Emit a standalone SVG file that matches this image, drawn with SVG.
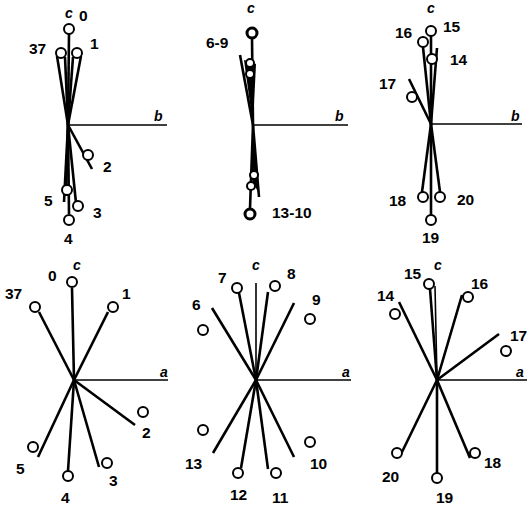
<svg xmlns="http://www.w3.org/2000/svg" width="528" height="507" viewBox="0 0 528 507">
<style>
.ax{stroke:#000;stroke-width:1.6;fill:none}
.sp{stroke:#000;stroke-width:2.6;fill:none;stroke-linecap:butt}
.spb{stroke:#000;stroke-width:4;fill:none}
.wd{fill:#000;stroke:none}
.c{fill:#fff;stroke:#000;stroke-width:2}
.cb{fill:#fff;stroke:#000;stroke-width:3}
text{font-family:"Liberation Sans",Arial,sans-serif;font-weight:bold;font-size:15.5px;fill:#000}
.ai{font-style:italic;font-size:14px}
</style>
<rect width="528" height="507" fill="#fff"/>
<g id="connectors">
<!-- panel 1 -->
<line class="ax" x1="68" y1="125" x2="167" y2="125"/>
<line class="sp" x1="69" y1="34" x2="68" y2="125"/>
<line class="sp" x1="57" y1="56" x2="68" y2="125"/>
<line class="sp" x1="65" y1="57" x2="68" y2="125"/>
<line class="sp" x1="73" y1="57" x2="68" y2="125"/>
<line class="sp" x1="81" y1="56" x2="68" y2="125"/>
<line class="sp" x1="68" y1="125" x2="92" y2="169"/>
<line class="sp" x1="68" y1="125" x2="64" y2="202"/>
<line class="sp" x1="68" y1="125" x2="69" y2="214"/>
<line class="sp" x1="68" y1="125" x2="76" y2="203"/>
<line class="sp" x1="68" y1="125" x2="66" y2="196"/>
<!-- panel 2 -->
<line class="ax" x1="253" y1="125" x2="348" y2="125"/>
<line class="sp" x1="252" y1="38" x2="253" y2="125"/>
<line class="sp" x1="240" y1="55" x2="253" y2="125"/>
<polygon class="wd" points="244,60 256,64 253,125"/>
<line class="sp" x1="253" y1="125" x2="250" y2="208"/>
<polygon class="wd" points="253,125 251,178 259,194"/>
<line class="sp" x1="253" y1="125" x2="259" y2="197"/>
<!-- panel 3 -->
<line class="ax" x1="431" y1="124" x2="522" y2="124"/>
<line class="sp" x1="431" y1="36" x2="431" y2="124"/>
<line class="sp" x1="423" y1="47" x2="431" y2="124"/>
<line class="sp" x1="437" y1="48" x2="431" y2="124"/>
<line class="sp" x1="409" y1="79" x2="431" y2="124"/>
<line class="sp" x1="431" y1="124" x2="422" y2="192"/>
<line class="sp" x1="431" y1="124" x2="440" y2="192"/>
<line class="sp" x1="431" y1="124" x2="431" y2="215"/>
<!-- panel 4 -->
<line class="ax" x1="74" y1="380" x2="168" y2="380"/>
<line class="sp" x1="72" y1="288" x2="74" y2="380"/>
<line class="sp" x1="39" y1="312" x2="74" y2="380"/>
<line class="sp" x1="108" y1="312" x2="74" y2="380"/>
<line class="sp" x1="74" y1="380" x2="135" y2="425"/>
<line class="sp" x1="74" y1="380" x2="38" y2="457"/>
<line class="sp" x1="74" y1="380" x2="68" y2="471"/>
<line class="sp" x1="74" y1="380" x2="99" y2="467"/>
<!-- panel 5 -->
<line class="ax" x1="256" y1="380" x2="351" y2="380"/>
<line class="ax" x1="256" y1="283" x2="256" y2="380"/>
<line class="sp" x1="239" y1="293" x2="256" y2="380"/>
<line class="sp" x1="268" y1="292" x2="256" y2="380"/>
<line class="sp" x1="294" y1="303" x2="256" y2="380"/>
<line class="sp" x1="212" y1="308" x2="256" y2="380"/>
<line class="sp" x1="256" y1="380" x2="213" y2="453"/>
<line class="sp" x1="256" y1="380" x2="241" y2="468"/>
<line class="sp" x1="256" y1="380" x2="268" y2="469"/>
<line class="sp" x1="256" y1="380" x2="294" y2="457"/>
<!-- panel 6 -->
<line class="ax" x1="437" y1="380" x2="527" y2="380"/>
<line class="ax" x1="435" y1="286" x2="437" y2="380"/>
<line class="sp" x1="430" y1="289" x2="437" y2="380"/>
<line class="sp" x1="462" y1="295" x2="437" y2="380"/>
<line class="sp" x1="399" y1="302" x2="437" y2="380"/>
<line class="sp" x1="437" y1="380" x2="499" y2="334"/>
<line class="sp" x1="437" y1="380" x2="402" y2="452"/>
<line class="sp" x1="437" y1="380" x2="437" y2="473"/>
<line class="sp" x1="437" y1="380" x2="470" y2="458"/>
</g>
<g id="panel1">
<circle class="c" cx="69" cy="29" r="5"/>
<circle class="c" cx="61" cy="53" r="5"/>
<circle class="c" cx="77" cy="53" r="5"/>
<circle class="c" cx="88" cy="155" r="5"/>
<circle class="c" cx="67" cy="190" r="5"/>
<circle class="c" cx="78" cy="206" r="5"/>
<circle class="c" cx="69" cy="220" r="5"/>
<text class="ai" x="65" y="18">c</text>
<text x="79" y="21">0</text>
<text x="29" y="54">37</text>
<text x="90" y="49">1</text>
<text class="ai" x="154" y="121">b</text>
<text x="103" y="172">2</text>
<text x="44" y="206">5</text>
<text x="93" y="218">3</text>
<text x="64" y="244">4</text>
</g>
<g id="panel2">
<circle class="cb" cx="252" cy="33" r="5"/>
<circle class="c" cx="250" cy="63" r="4"/>
<circle class="c" cx="250" cy="74" r="4"/>
<circle class="c" cx="254" cy="175" r="4"/>
<circle class="c" cx="251" cy="186" r="4"/>
<circle class="cb" cx="250" cy="214" r="5"/>
<text class="ai" x="247" y="13">c</text>
<text x="206" y="48">6-9</text>
<text class="ai" x="335" y="121">b</text>
<text x="272" y="218">13-10</text>
</g>
<g id="panel3">
<circle class="c" cx="431" cy="31" r="5"/>
<circle class="c" cx="423" cy="42" r="5"/>
<circle class="c" cx="432" cy="59" r="5"/>
<circle class="c" cx="412" cy="97" r="5"/>
<circle class="c" cx="423" cy="197" r="5"/>
<circle class="c" cx="440" cy="197" r="5"/>
<circle class="c" cx="431" cy="220" r="5"/>
<text class="ai" x="427" y="13">c</text>
<text x="443" y="32">15</text>
<text x="395" y="38">16</text>
<text x="450" y="65">14</text>
<text x="379" y="89">17</text>
<text class="ai" x="511" y="121">b</text>
<text x="389" y="206">18</text>
<text x="457" y="205">20</text>
<text x="422" y="243">19</text>
</g>
<g id="panel4">
<circle class="c" cx="72" cy="282" r="5"/>
<circle class="c" cx="35" cy="307" r="5"/>
<circle class="c" cx="113" cy="307" r="5"/>
<circle class="c" cx="143" cy="412" r="5"/>
<circle class="c" cx="33" cy="447" r="5"/>
<circle class="c" cx="68" cy="476" r="5"/>
<circle class="c" cx="107" cy="463" r="5"/>
<text class="ai" x="73" y="270">c</text>
<text x="48" y="281">0</text>
<text x="5" y="299">37</text>
<text x="122" y="299">1</text>
<text class="ai" x="160" y="377">a</text>
<text x="142" y="438">2</text>
<text x="16" y="474">5</text>
<text x="109" y="486">3</text>
<text x="61" y="503">4</text>
</g>
<g id="panel5">
<circle class="c" cx="237" cy="288" r="5"/>
<circle class="c" cx="275" cy="286" r="5"/>
<circle class="c" cx="310" cy="319" r="5"/>
<circle class="c" cx="203" cy="330" r="5"/>
<circle class="c" cx="203" cy="430" r="5"/>
<circle class="c" cx="238" cy="473" r="5"/>
<circle class="c" cx="276" cy="473" r="5"/>
<circle class="c" cx="310" cy="442" r="5"/>
<text class="ai" x="252" y="270">c</text>
<text x="218" y="283">7</text>
<text x="287" y="279">8</text>
<text x="312" y="305">9</text>
<text x="192" y="310">6</text>
<text class="ai" x="342" y="377">a</text>
<text x="185" y="469">13</text>
<text x="230" y="500">12</text>
<text x="272" y="503">11</text>
<text x="310" y="469">10</text>
</g>
<g id="panel6">
<circle class="c" cx="429" cy="284" r="5"/>
<circle class="c" cx="468" cy="297" r="5"/>
<circle class="c" cx="395" cy="314" r="5"/>
<circle class="c" cx="506" cy="351" r="5"/>
<circle class="c" cx="397" cy="453" r="5"/>
<circle class="c" cx="437" cy="478" r="5"/>
<circle class="c" cx="475" cy="453" r="5"/>
<text class="ai" x="434" y="270">c</text>
<text x="404" y="279">15</text>
<text x="471" y="289">16</text>
<text x="377" y="301">14</text>
<text x="510" y="341">17</text>
<text class="ai" x="516" y="377">a</text>
<text x="382" y="482">20</text>
<text x="436" y="503">19</text>
<text x="484" y="468">18</text>
</g>
</svg>
